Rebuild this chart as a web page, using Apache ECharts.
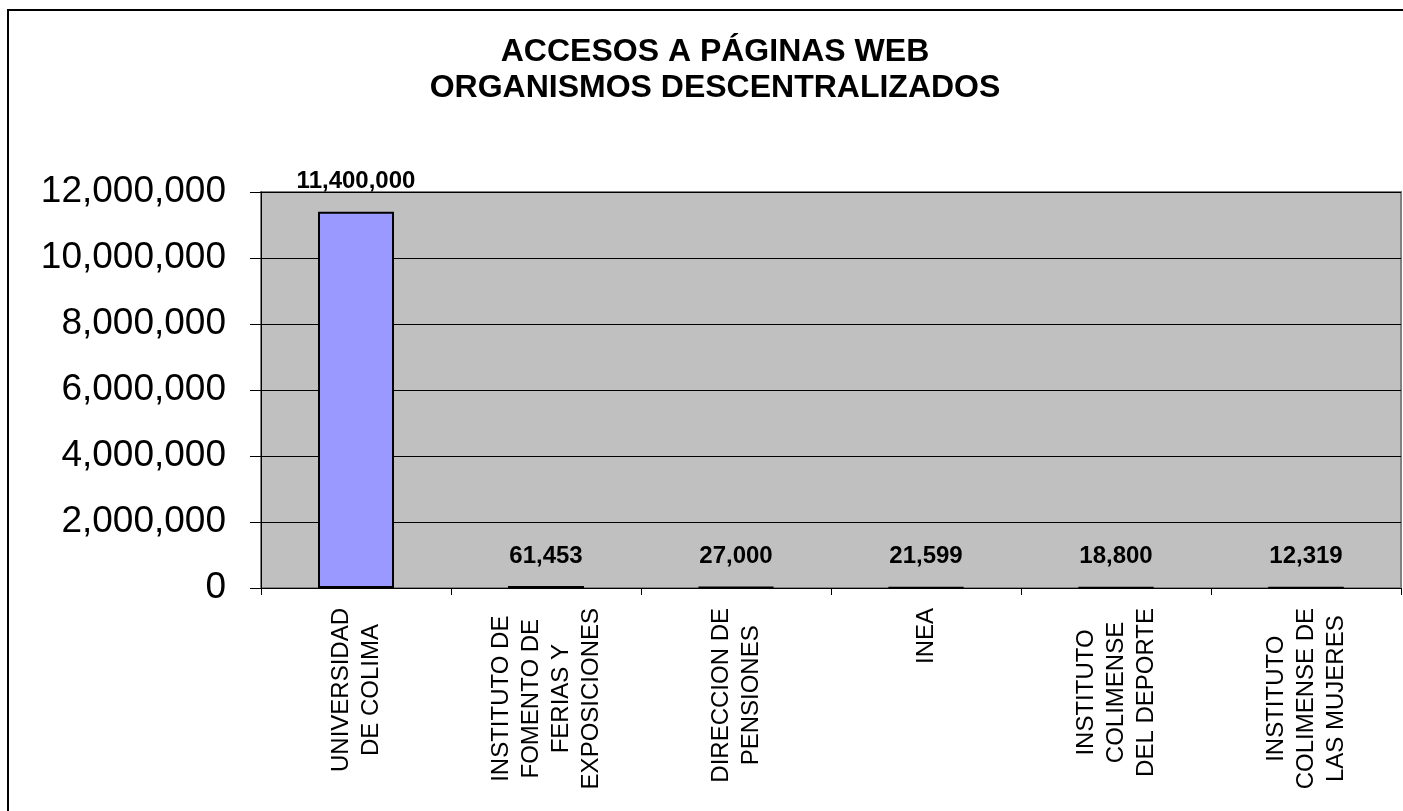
<!DOCTYPE html>
<html>
<head>
<meta charset="utf-8">
<script src="https://cdn.jsdelivr.net/npm/echarts@6/dist/echarts.min.js"></script>
<style>
html,body{margin:0;padding:0;background:#ffffff;}
#chart{width:1403px;height:811px;}
</style>
</head>
<body>
<div id="chart"></div>
<script>
const titleLines = ['ACCESOS A PÁGINAS WEB', 'ORGANISMOS DESCENTRALIZADOS'];
const categories = [
  'UNIVERSIDAD\nDE COLIMA',
  'INSTITUTO DE\nFOMENTO DE\nFERIAS Y\nEXPOSICIONES',
  'DIRECCION DE\nPENSIONES',
  'INEA',
  'INSTITUTO\nCOLIMENSE\nDEL DEPORTE',
  'INSTITUTO\nCOLIMENSE DE\nLAS MUJERES'
];
const accesos = [11400000, 61453, 27000, 21599, 18800, 12319];
const yMin = 0;
const yMax = 12000000;
const yInterval = 2000000;

const FONT = "'Liberation Sans', Arial, Helvetica, sans-serif";
const fmt = v => Number(v).toLocaleString('en-US');

const chart = echarts.init(document.getElementById('chart'), null, {renderer: 'canvas'});
chart.setOption({
  backgroundColor: '#ffffff',
  animation: false,
  title: {
    text: titleLines.join('\n'),
    left: 715,
    top: 34,
    padding: 0,
    textAlign: 'center',
    textStyle: {
      fontFamily: FONT,
      fontSize: 32,
      fontWeight: 'bold',
      color: '#000000',
      lineHeight: 36
    }
  },
  graphic: [{
    type: 'rect',
    silent: true,
    z: 100,
    shape: {x: 8, y: 10, width: 1600, height: 1000},
    style: {fill: 'none', stroke: '#000000', lineWidth: 2}
  }],
  grid: {
    left: 261,
    right: 2,
    top: 192,
    bottom: 223,
    show: true,
    backgroundColor: '#C0C0C0',
    borderColor: '#808080',
    borderWidth: 2,
    containLabel: false
  },
  xAxis: {
    type: 'category',
    data: categories,
    axisLine: {show: true, lineStyle: {color: '#000000', width: 1}},
    axisTick: {show: true, length: 7, lineStyle: {color: '#000000', width: 1}},
    splitLine: {show: false},
    axisLabel: {
      rotate: 90,
      interval: 0,
      margin: 20,
      color: '#000000',
      fontFamily: FONT,
      fontSize: 24,
      formatter: function (v) {
        return v.split('\n').map(s => '{c|' + s + '}').join('\n');
      },
      rich: {
        c: {align: 'center', fontFamily: FONT, fontSize: 24, lineHeight: 30, color: '#000000'}
      }
    }
  },
  yAxis: {
    type: 'value',
    min: yMin,
    max: yMax,
    interval: yInterval,
    axisLine: {show: true, lineStyle: {color: '#000000', width: 1}},
    axisTick: {show: true, length: 11, lineStyle: {color: '#000000', width: 1}},
    splitLine: {show: true, lineStyle: {color: '#000000', width: 1}},
    axisLabel: {
      margin: 35,
      color: '#000000',
      fontFamily: FONT,
      fontSize: 37,
      showMaxLabel: true,
      showMinLabel: true,
      formatter: v => fmt(v)
    }
  },
  series: [{
    type: 'bar',
    data: accesos,
    barWidth: '40%',
    itemStyle: {color: '#9999FF', borderColor: '#000000', borderWidth: 2},
    label: {
      show: true,
      position: 'top',
      distance: 18,
      color: '#000000',
      fontFamily: FONT,
      fontSize: 24,
      fontWeight: 'bold',
      formatter: p => fmt(p.value)
    }
  }]
});
</script>
</body>
</html>
